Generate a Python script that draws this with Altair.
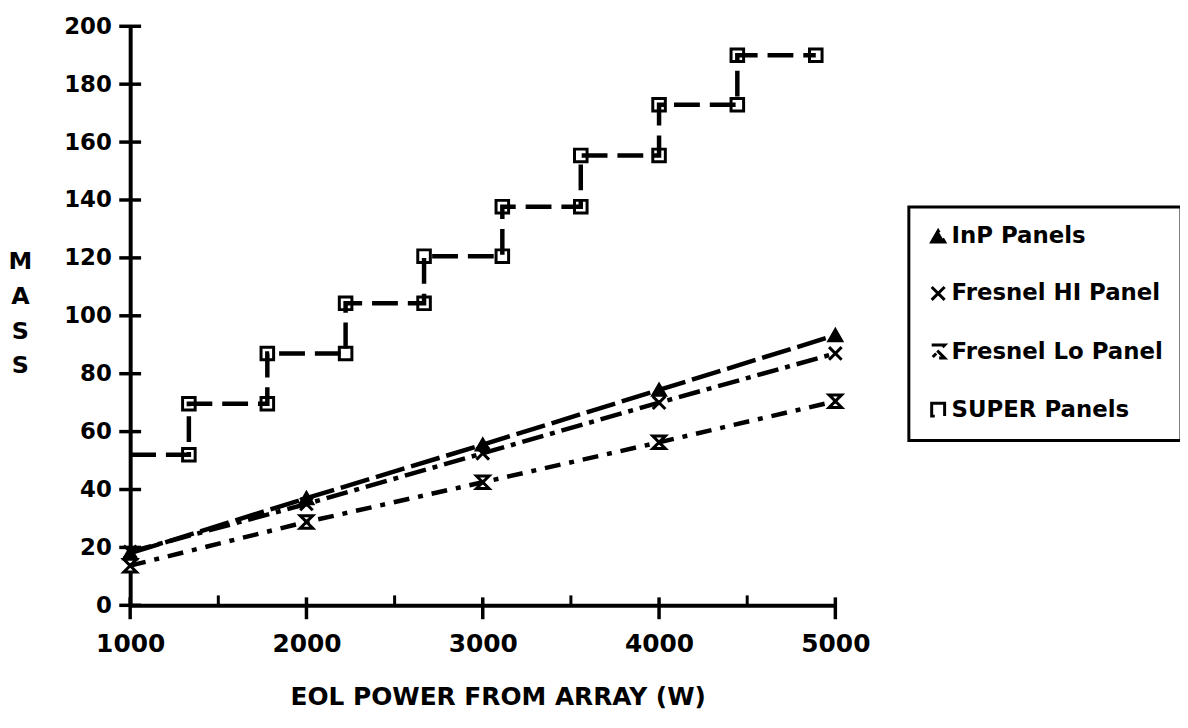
import altair as alt
import pandas as pd

# ---- data ----
series_names = ["InP Panels", "Fresnel HI Panel", "Fresnel Lo Panel", "SUPER Panels"]

power = [1000, 2000, 3000, 4000, 5000]
inp_mass = [18.0, 37.0, 55.5, 74.4, 93.3]
fresnel_hi_mass = [18.5, 35.0, 52.5, 70.0, 87.0]
fresnel_lo_mass = [13.7, 28.8, 42.5, 56.3, 70.5]

# SUPER panels: step function, each level holds between two edges
super_edges = [1000, 1333, 1778, 2222, 2667, 3111, 3556, 4000, 4444, 4889]
super_levels = [52.0, 69.6, 87.0, 104.3, 120.6, 137.7, 155.4, 172.9, 190.0]

y_ticks = [0, 20, 40, 60, 80, 100, 120, 140, 160, 180, 200]
x_ticks = [1000, 2000, 3000, 4000, 5000]
x_minor_ticks = [1500, 2500, 3500, 4500]

# ---- build tables ----
rows = []
for s, vals in zip(series_names[:3], [inp_mass, fresnel_hi_mass, fresnel_lo_mass]):
    for i, (p, m) in enumerate(zip(power, vals)):
        rows.append({"series": s, "power": p, "mass": m, "order": i})
k = 0
for i, lvl in enumerate(super_levels):
    rows.append({"series": series_names[3], "power": super_edges[i], "mass": lvl, "order": k}); k += 1
    rows.append({"series": series_names[3], "power": super_edges[i + 1], "mass": lvl, "order": k}); k += 1
df = pd.DataFrame(rows)
pts = df[~((df["series"] == series_names[3]) & (df["order"] == 0))]

FONT = "DejaVu Sans"

x_scale = alt.Scale(domain=[1000, 5000], nice=False, zero=False)
y_scale = alt.Scale(domain=[0, 200], nice=False)

x_axis = alt.Axis(values=x_ticks, format="d", ticks=False, grid=False, domainColor="black", domainWidth=4,
                  labelFont=FONT, labelFontSize=25, labelFontWeight="bold", labelColor="black",
                  labelPadding=26, labelFlush=False,
                  title="EOL POWER FROM ARRAY (W)", titleFont=FONT, titleFontSize=25,
                  titleFontWeight="bold", titleColor="black", titleX=370, titleY=100,
                  titleBaseline="alphabetic", titleAlign="center")
y_axis = alt.Axis(values=y_ticks, format="d", ticks=False, grid=False, domainColor="black", domainWidth=4,
                  labelFont=FONT, labelFontSize=23, labelFontWeight="bold", labelColor="black",
                  labelPadding=19, labelFlush=False,
                  title=["M", "A", "S", "S"], titleAngle=0, titleFont=FONT, titleFontSize=24,
                  titleFontWeight="bold", titleColor="black", titleX=-111, titleY=244,
                  titleBaseline="alphabetic", titleAlign="center", titleLineHeight=35)

dash_scale = alt.Scale(domain=series_names,
                       range=[[30, 7], [22, 7, 5, 7], [16, 9, 5, 9], [26, 10]])
shape_scale = alt.Scale(domain=series_names,
                        range=["triangle-up", "M-1,-1L1,1M1,-1L-1,1",
                               "M-1,-1L1,-1L-1,1L1,1Z", "square"])
fill_scale = alt.Scale(domain=series_names, range=["black", "white", "white", "white"])
stroke_scale = alt.Scale(domain=series_names, range=["black", "black", "black", "black"])

legend = alt.Legend(orient="none", legendX=784, legendY=182, title=None,
                    strokeColor="black", fillColor="white", padding=18,
                    labelFont=FONT, labelFontSize=23, labelFontWeight="bold", labelColor="black",
                    labelLimit=400, labelOffset=2, rowPadding=31.5, symbolSize=170,
                    symbolStrokeColor="black", symbolStrokeWidth=3)

points = alt.Chart(pts).mark_point(size=160, strokeWidth=3, opacity=1, filled=False).encode(
    x=alt.X("power:Q", scale=x_scale, axis=x_axis),
    y=alt.Y("mass:Q", scale=y_scale, axis=y_axis),
    shape=alt.Shape("series:N", scale=shape_scale, legend=legend),
    fill=alt.Fill("series:N", scale=fill_scale, legend=legend),
    stroke=alt.Stroke("series:N", scale=stroke_scale, legend=legend),
)

lines = alt.Chart(df).mark_line(strokeWidth=4.5, color="black").encode(
    x="power:Q",
    y="mass:Q",
    detail="series:N",
    order="order:Q",
    strokeDash=alt.StrokeDash("series:N", scale=dash_scale, legend=None),
)

ytick_df = pd.DataFrame({"v": y_ticks})
xtick_df = pd.DataFrame({"v": x_ticks})
xminor_df = pd.DataFrame({"v": x_minor_ticks})

yticks = alt.Chart(ytick_df).mark_tick(orient="horizontal", size=22, thickness=3.5, color="black", opacity=1).encode(
    x=alt.datum(1000), y="v:Q")
xticks = alt.Chart(xtick_df).mark_tick(orient="vertical", size=22, thickness=3.5, color="black", opacity=1, yOffset=3).encode(
    x="v:Q", y=alt.datum(0))
xminor = alt.Chart(xminor_df).mark_tick(orient="vertical", size=10, thickness=3, color="black", opacity=1, yOffset=-5).encode(
    x="v:Q", y=alt.datum(0))

chart = alt.layer(points, lines, yticks, xticks, xminor).properties(
    width=710, height=583,
    padding={"left": 123, "top": 16, "right": 347, "bottom": 104},
    autosize=alt.AutoSizeParams(type="none"),
    background="white",
).configure_view(strokeWidth=0).configure_legend(strokeWidth=3)

chart.save("out.html", embed_options={"renderer": "svg", "actions": False})
